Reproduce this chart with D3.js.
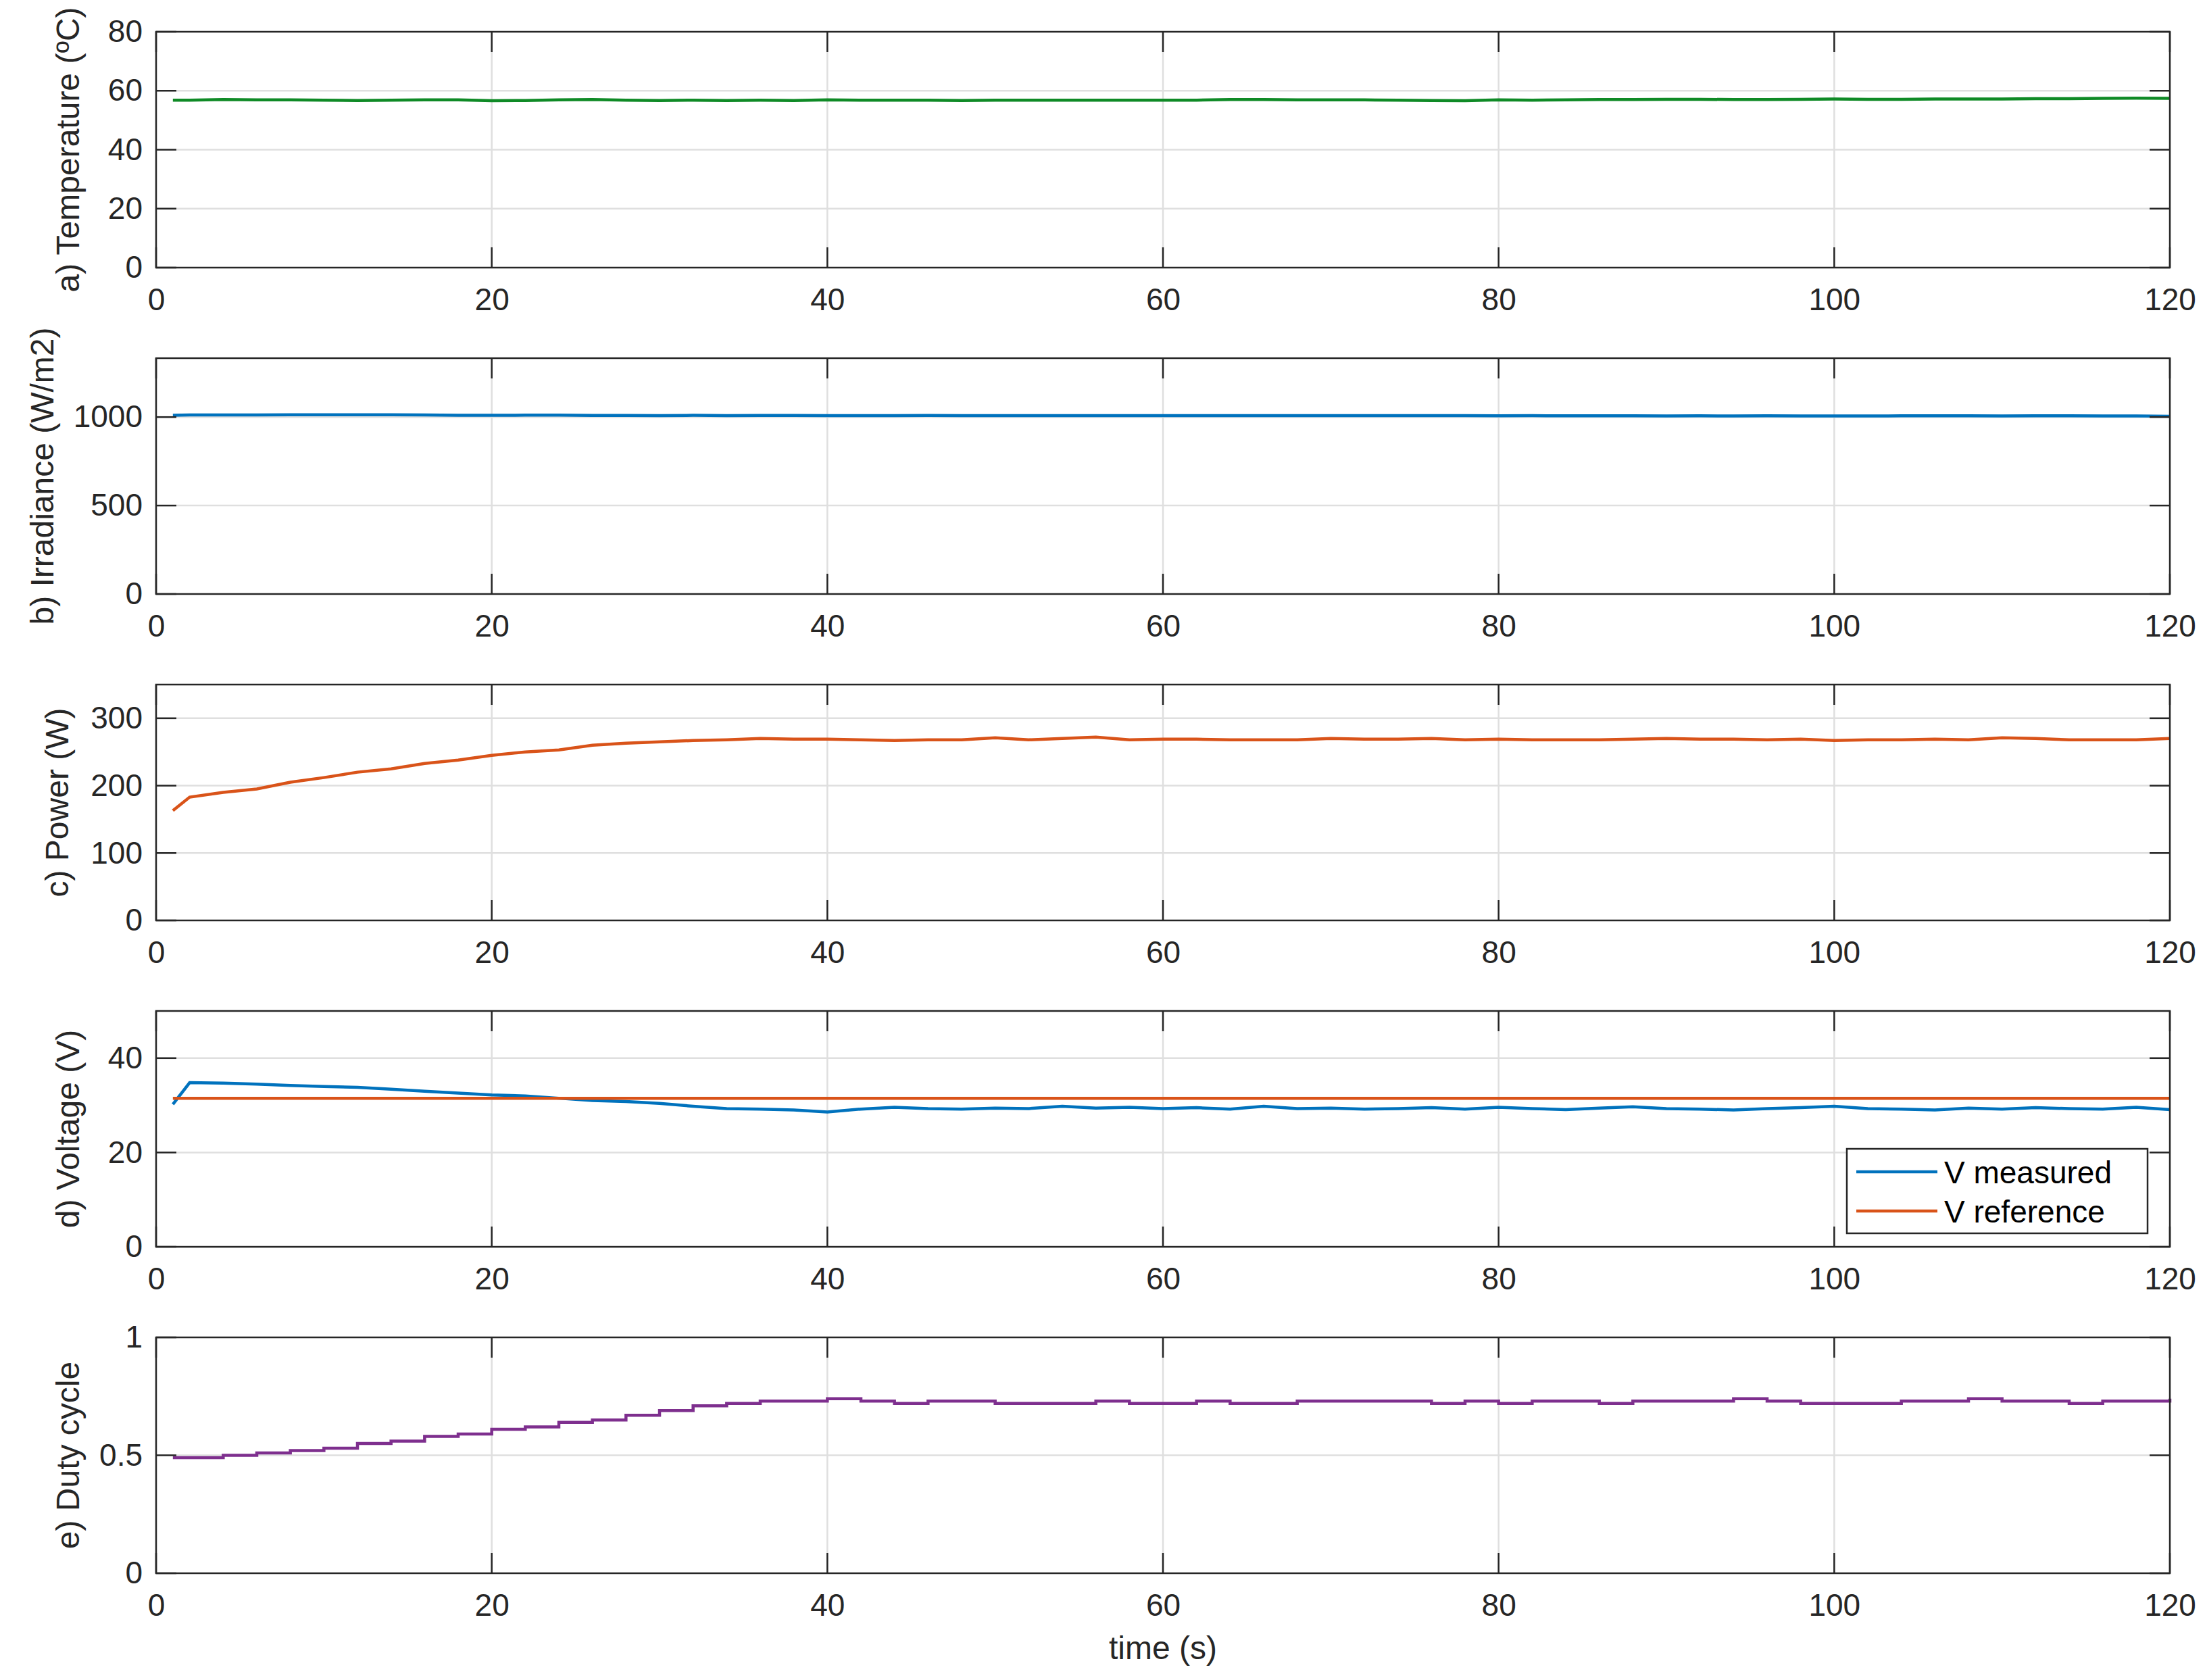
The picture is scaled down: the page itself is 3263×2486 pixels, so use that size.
<!DOCTYPE html>
<html>
<head>
<meta charset="utf-8">
<script src="https://cdn.jsdelivr.net/npm/d3@7"></script>
<style>
  body { margin: 0; background: #fff; }
  text { font-family: "Liberation Sans", Arial, sans-serif; fill: #262626; }
</style>
</head>
<body>
<svg id="chart" width="3263" height="2486"></svg>
<script>
// sample times (s)
var time = [1, 2, 4, 6, 8, 10, 12, 14, 16, 18,
  20, 22, 24, 26, 28, 30, 32, 34, 36, 38,
  40, 42, 44, 46, 48, 50, 52, 54, 56, 58,
  60, 62, 64, 66, 68, 70, 72, 74, 76, 78,
  80, 82, 84, 86, 88, 90, 92, 94, 96, 98,
  100, 102, 104, 106, 108, 110, 112, 114, 116, 118, 120];

var temperature = [56.8, 56.8, 57.0, 56.9, 56.9, 56.8, 56.7, 56.8, 56.9, 56.9,
  56.6, 56.7, 56.9, 57.0, 56.8, 56.7, 56.8, 56.7, 56.8, 56.7,
  56.9, 56.8, 56.8, 56.8, 56.7, 56.8, 56.8, 56.8, 56.8, 56.8,
  56.8, 56.8, 57.0, 57.0, 56.9, 56.9, 56.9, 56.8, 56.7, 56.6,
  56.9, 56.8, 56.9, 57.0, 57.0, 57.1, 57.1, 57.0, 57.0, 57.1,
  57.2, 57.1, 57.1, 57.2, 57.2, 57.2, 57.3, 57.3, 57.4, 57.5, 57.4];

var irradiance = [1010, 1012, 1012, 1012, 1013, 1013, 1013, 1013, 1012, 1010,
  1010, 1011, 1011, 1009, 1009, 1008, 1010, 1008, 1009, 1009,
  1008, 1008, 1008, 1009, 1008, 1008, 1008, 1008, 1008, 1008,
  1008, 1008, 1008, 1008, 1008, 1008, 1008, 1008, 1008, 1008,
  1007, 1008, 1007, 1007, 1007, 1006, 1007, 1006, 1007, 1006,
  1006, 1006, 1007, 1007, 1007, 1006, 1007, 1007, 1006, 1006, 1005];

var power = [163, 183, 190, 195, 205, 212, 220, 225, 233, 238,
  245, 250, 253, 260, 263, 265, 267, 268, 270, 269,
  269, 268, 267, 268, 268, 271, 268, 270, 272, 268,
  269, 269, 268, 268, 268, 270, 269, 269, 270, 268,
  269, 268, 268, 268, 269, 270, 269, 269, 268, 269,
  267, 268, 268, 269, 268, 271, 270, 268, 268, 268, 270];

var vMeasured = [30.2, 34.8, 34.7, 34.5, 34.2, 34.0, 33.8, 33.4, 33.0, 32.6,
  32.2, 32.0, 31.5, 31.0, 30.8, 30.4, 29.8, 29.3, 29.2, 29.0,
  28.6, 29.2, 29.6, 29.3, 29.2, 29.4, 29.3, 29.8, 29.4, 29.6,
  29.3, 29.5, 29.2, 29.8, 29.3, 29.4, 29.2, 29.3, 29.5, 29.2,
  29.6, 29.3, 29.1, 29.4, 29.7, 29.3, 29.2, 29.0, 29.3, 29.5,
  29.8, 29.3, 29.2, 29.0, 29.4, 29.2, 29.5, 29.3, 29.2, 29.6, 29.1];

var vRefTime = [1, 120];
var vReference = [31.5, 31.5];

var duty = [0.49, 0.49, 0.50, 0.51, 0.52, 0.53, 0.55, 0.56, 0.58, 0.59,
  0.61, 0.62, 0.64, 0.65, 0.67, 0.69, 0.71, 0.72, 0.73, 0.73,
  0.74, 0.73, 0.72, 0.73, 0.73, 0.72, 0.72, 0.72, 0.73, 0.72,
  0.72, 0.73, 0.72, 0.72, 0.73, 0.73, 0.73, 0.73, 0.72, 0.73,
  0.72, 0.73, 0.73, 0.72, 0.73, 0.73, 0.73, 0.74, 0.73, 0.72,
  0.72, 0.72, 0.73, 0.73, 0.74, 0.73, 0.73, 0.72, 0.73, 0.73, 0.74];

var xTicks = [0, 20, 40, 60, 80, 100, 120];
var legendLabels = ["V measured", "V reference"];

var panels = [
  { label: "a) Temperature (ºC)", labelX: 100, domain: [0, 80], ticks: [0, 20, 40, 60, 80],
    series: [{ x: time, y: temperature, color: "#0f8a26" }] },
  { label: "b) Irradiance (W/m2)", labelX: 62, domain: [0, 1333], ticks: [0, 500, 1000],
    series: [{ x: time, y: irradiance, color: "#0072BD" }] },
  { label: "c) Power (W)", labelX: 84, domain: [0, 350], ticks: [0, 100, 200, 300],
    series: [{ x: time, y: power, color: "#D95319" }] },
  { label: "d) Voltage (V)", labelX: 100, domain: [0, 50], ticks: [0, 20, 40],
    series: [{ x: time, y: vMeasured, color: "#0072BD" },
             { x: vRefTime, y: vReference, color: "#D95319" }], legend: true },
  { label: "e) Duty cycle", labelX: 100, domain: [0, 1], ticks: [0, 0.5, 1], step: true,
    series: [{ x: time, y: duty, color: "#7E2F8E" }] }
];

var svg = d3.select("#chart");
var left = 231, right = 3211, top0 = 47, ph = 349, pitch = 483;

var x = d3.scaleLinear().domain([0, 120]).range([left, right]);

panels.forEach(function(p, i) {
  var top = top0 + i * pitch, bottom = top + ph;
  var y = d3.scaleLinear().domain(p.domain).range([bottom, top]);
  var g = svg.append("g");

  // grid
  g.selectAll(".gx").data(xTicks.slice(1, -1)).enter().append("line")
    .attr("x1", x).attr("x2", x).attr("y1", top).attr("y2", bottom)
    .attr("stroke", "#dfdfdf").attr("stroke-width", 2.5);
  g.selectAll(".gy").data(p.ticks.filter(function(t) { return t > p.domain[0] && t < p.domain[1]; }))
    .enter().append("line")
    .attr("x1", left).attr("x2", right).attr("y1", y).attr("y2", y)
    .attr("stroke", "#dfdfdf").attr("stroke-width", 2.5);

  // lines
  p.series.forEach(function(s) {
    var line = d3.line()
      .x(function(d, k) { return x(s.x[k]); })
      .y(function(d) { return y(d); });
    if (p.step) line.curve(d3.curveStepAfter);
    g.append("path").datum(s.y)
      .attr("d", line).attr("fill", "none")
      .attr("stroke", s.color).attr("stroke-width", 4.5);
  });

  // axes
  var xAxis = d3.axisBottom(x).tickValues(xTicks).tickSize(0).tickPadding(30)
    .tickFormat(d3.format("d"));
  var ax = g.append("g").attr("transform", "translate(0," + bottom + ")").call(xAxis);
  var yAxis = d3.axisLeft(y).tickValues(p.ticks).tickSize(0).tickPadding(20)
    .tickFormat(function(d) { return d === 0.5 ? "0.5" : d3.format("d")(d); });
  var ay = g.append("g").attr("transform", "translate(" + left + ",0)").call(yAxis);
  [ax, ay].forEach(function(a) {
    a.select(".domain").remove();
    a.selectAll("text").attr("font-size", 46).style("fill", "#262626")
      .attr("font-family", "Liberation Sans, Arial, sans-serif");
  });

  // tick marks inside
  xTicks.forEach(function(t) {
    g.append("line").attr("x1", x(t)).attr("x2", x(t)).attr("y1", bottom).attr("y2", bottom - 30)
      .attr("stroke", "#262626").attr("stroke-width", 2.5);
    g.append("line").attr("x1", x(t)).attr("x2", x(t)).attr("y1", top).attr("y2", top + 30)
      .attr("stroke", "#262626").attr("stroke-width", 2.5);
  });
  p.ticks.forEach(function(t) {
    g.append("line").attr("x1", left).attr("x2", left + 30).attr("y1", y(t)).attr("y2", y(t))
      .attr("stroke", "#262626").attr("stroke-width", 2.5);
    g.append("line").attr("x1", right).attr("x2", right - 30).attr("y1", y(t)).attr("y2", y(t))
      .attr("stroke", "#262626").attr("stroke-width", 2.5);
  });

  g.append("rect").attr("x", left).attr("y", top).attr("width", right - left).attr("height", ph)
    .attr("fill", "none").attr("stroke", "#262626").attr("stroke-width", 2.5);

  g.append("text")
    .attr("transform", "translate(" + p.labelX + "," + (top + ph / 2) + ") rotate(-90)")
    .attr("text-anchor", "middle").attr("dy", "0.35em")
    .attr("font-size", 48).text(p.label);

  if (p.legend) {
    var lg = g.append("g");
    lg.append("rect").attr("x", 2733).attr("y", 1700).attr("width", 445).attr("height", 125)
      .attr("fill", "#fff").attr("stroke", "#262626").attr("stroke-width", 2.5);
    p.series.forEach(function(s, k) {
      var ly = 1734 + k * 58;
      lg.append("line").attr("x1", 2747).attr("x2", 2867).attr("y1", ly).attr("y2", ly)
        .attr("stroke", s.color).attr("stroke-width", 4.5);
      lg.append("text").attr("x", 2877).attr("y", ly).attr("dy", "0.36em")
        .attr("font-size", 46).style("fill", "#000").text(legendLabels[k]);
    });
  }
});

svg.append("text").attr("x", (left + right) / 2).attr("y", 2455)
  .attr("text-anchor", "middle").attr("font-size", 48).text("time (s)");
</script>
</body>
</html>
